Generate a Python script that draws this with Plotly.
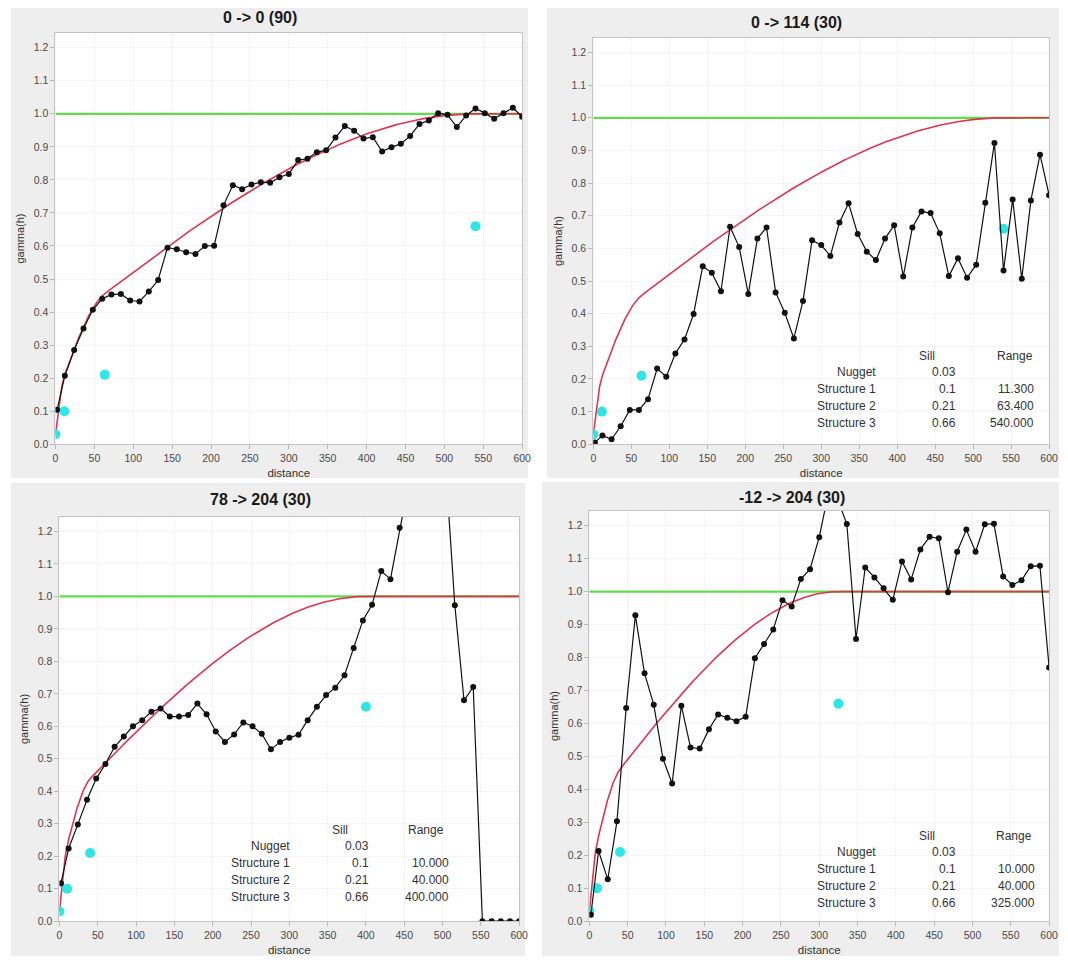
import numpy as np
import plotly.graph_objects as go

# page is shown in a 1068x962 window; the html body adds an 8px margin,
# so the figure is made 8px smaller and all pixel positions are shifted by 8.
WIN_W, WIN_H = 1068, 962
OFF = 8
W, H = WIN_W - OFF, WIN_H - OFF

# ---------------- data ----------------
lag_distance = [2, 12, 24, 36, 48, 60, 72, 84, 96, 108, 120, 132, 144, 156, 168, 180,
                192, 204, 216, 228, 240, 252, 264, 276, 288, 300, 312, 324, 336, 348,
                360, 372, 384, 396, 408, 420, 432, 444, 456, 468, 480, 492, 504, 516,
                528, 540, 552, 564, 576, 588, 600]

gamma_0_0 = [0.104, 0.207, 0.285, 0.35, 0.407, 0.44, 0.453, 0.455, 0.435, 0.432, 0.462,
             0.497, 0.595, 0.59, 0.581, 0.576, 0.6, 0.601, 0.723, 0.784, 0.772, 0.786,
             0.793, 0.791, 0.808, 0.818, 0.86, 0.864, 0.884, 0.89, 0.928, 0.963, 0.949,
             0.925, 0.929, 0.886, 0.899, 0.909, 0.933, 0.969, 0.98, 1.002, 0.997, 0.96,
             0.995, 1.016, 1.002, 0.985, 1.002, 1.018, 0.991]

gamma_0_114 = [0.005, 0.027, 0.015, 0.055, 0.105, 0.105, 0.138, 0.232, 0.207, 0.278, 0.321,
               0.399, 0.545, 0.525, 0.469, 0.666, 0.604, 0.46, 0.63, 0.664, 0.465, 0.403,
               0.324, 0.439, 0.625, 0.61, 0.577, 0.679, 0.738, 0.644, 0.59, 0.564, 0.63,
               0.671, 0.514, 0.664, 0.713, 0.708, 0.646, 0.515, 0.57, 0.51, 0.55, 0.74,
               0.923, 0.532, 0.75, 0.507, 0.747, 0.887, 0.763]

gamma_78_204 = [0.117, 0.224, 0.298, 0.374, 0.439, 0.484, 0.537, 0.569, 0.6, 0.619, 0.645,
                0.655, 0.63, 0.63, 0.635, 0.67, 0.637, 0.584, 0.552, 0.575, 0.612, 0.6,
                0.577, 0.529, 0.552, 0.565, 0.574, 0.619, 0.66, 0.696, 0.719, 0.757, 0.841,
                0.926, 0.974, 1.078, 1.053, 1.211, 1.37, 1.5, 1.55, 1.5, 1.4, 0.973, 0.68,
                0.721, 0.0, 0.0, 0.0, 0.0, 0.0]

gamma_m12_204 = [0.02, 0.213, 0.127, 0.303, 0.647, 0.928, 0.752, 0.657, 0.493, 0.418, 0.654,
                 0.527, 0.524, 0.582, 0.627, 0.617, 0.607, 0.62, 0.798, 0.841, 0.885, 0.974,
                 0.955, 1.038, 1.068, 1.165, 1.30, 1.28, 1.205, 0.856, 1.073, 1.043, 1.01,
                 0.975, 1.091, 1.037, 1.128, 1.166, 1.162, 0.998, 1.121, 1.188, 1.121, 1.204,
                 1.206, 1.046, 1.02, 1.034, 1.077, 1.078, 0.77]

titles = ["0 -> 0 (90)", "0 -> 114 (30)", "78 -> 204 (30)", "-12 -> 204 (30)"]

# variogram model parameters (Nugget / Structure sills and ranges, as printed)
nugget = [0.03, 0.03, 0.03, 0.03]
struct_sill = [[0.1, 0.21, 0.66]] * 4
struct_range = [[11.3, 63.4, 540.0], [11.3, 63.4, 540.0],
                [10.0, 40.0, 400.0], [10.0, 40.0, 325.0]]
range_labels = [None, ["11.300", "63.400", "540.000"],
                ["10.000", "40.000", "400.000"], ["10.000", "40.000", "325.000"]]
sill_labels = ["0.03", "0.1", "0.21", "0.66"]
row_labels = ["Nugget", "Structure 1", "Structure 2", "Structure 3"]
total_sill = 1.0

series = [gamma_0_0, gamma_0_114, gamma_78_204, gamma_m12_204]

# ---------------- layout geometry (window pixels) ----------------
# plot areas: (left, right, top, bottom)
plot_px = [(53, 525, 33, 447), (597, 1058, 38, 447),
           (57, 522, 520, 927), (593, 1058, 514, 927)]
panel_px = [(7, 531, 5, 481), (550, 1068, 6, 481),
            (7, 528, 486, 962), (545, 1068, 485, 962)]
title_px = [(260, 18), (802, 23), (260, 503), (798, 501)]
# table: label right edge, sill right edge, range right edge, sill header x, range header x, header y
table_px = [None,
            (885, 966, 1045, 934, 1023, 358),
            (292, 372, 453, 341, 428, 835),
            (885, 966, 1046, 934, 1022, 841)]
row_h = 16.8

FONT = "Liberation Sans, Arial, sans-serif"


def px_x(x):
    return (x - OFF) / W


def px_y(y):
    return 1 - (y - OFF) / H


def spherical_model(h, c0, sills, ranges):
    h = np.asarray(h, dtype=float)
    g = np.full_like(h, c0)
    for c, a in zip(sills, ranges):
        r = np.clip(h / a, 0, 1)
        g += c * (1.5 * r - 0.5 * r ** 3)
    return g


fig = go.Figure()
shapes = []
annotations = []
h_model = np.linspace(0, 600, 1201)

# panel backgrounds first, then white plot areas on top of them
for i in range(4):
    pl, pr, pt, pb = panel_px[i]
    shapes.append(dict(type="rect", xref="paper", yref="paper",
                       x0=max(px_x(pl), 0), x1=min(px_x(pr), 1),
                       y0=max(px_y(pb), 0), y1=min(px_y(pt), 1),
                       fillcolor="#eeeeee", line=dict(width=0), layer="below"))
for i in range(4):
    l, r, t, b = plot_px[i]
    shapes.append(dict(type="rect", xref="paper", yref="paper",
                       x0=px_x(l), x1=px_x(r), y0=px_y(b), y1=px_y(t),
                       fillcolor="white", line=dict(width=0), layer="below"))

for i in range(4):
    ax = "" if i == 0 else str(i + 1)
    xref, yref = "x" + ax, "y" + ax
    l, r, t, b = plot_px[i]

    fig.update_layout(**{
        "xaxis" + ax: dict(
            domain=[px_x(l), px_x(r)], range=[0, 600], anchor=yref,
            tickmode="linear", tick0=0, dtick=50,
            showgrid=True, gridcolor="#f5f5f5", gridwidth=1, zeroline=False,
            showline=True, linecolor="#c4c4c4", linewidth=1, mirror=True,
            ticks="outside", ticklen=4, tickcolor="#b8b8b8",
            tickfont=dict(family=FONT, size=10.5, color="#4a4a4a"),
            title=dict(text="distance", font=dict(family=FONT, size=11.5, color="#333"),
                       standoff=6),
        ),
        "yaxis" + ax: dict(
            domain=[px_y(b), px_y(t)], range=[0, 1.245], anchor=xref,
            tickmode="linear", tick0=0, dtick=0.1, tickformat=".1f",
            showgrid=True, gridcolor="#f5f5f5", gridwidth=1, zeroline=False,
            showline=True, linecolor="#c4c4c4", linewidth=1, mirror=True,
            ticks="outside", ticklen=4, tickcolor="#b8b8b8",
            tickfont=dict(family=FONT, size=10.5, color="#4a4a4a"),
            title=dict(text="gamma(h)", font=dict(family=FONT, size=11, color="#333"),
                       standoff=6),
        ),
    })

    # sill line
    fig.add_trace(go.Scatter(x=[0, 600], y=[total_sill, total_sill], mode="lines",
                             line=dict(color="#62dc4c", width=2.2),
                             xaxis=xref, yaxis=yref, showlegend=False, hoverinfo="skip"))
    # model curve from the printed nugget / sill / range
    fig.add_trace(go.Scatter(x=h_model,
                             y=spherical_model(h_model, nugget[i], struct_sill[i], struct_range[i]),
                             mode="lines", line=dict(color="#de3550", width=1.6),
                             xaxis=xref, yaxis=yref, showlegend=False, hoverinfo="skip"))
    # structure points (range, sill)
    fig.add_trace(go.Scatter(x=[0] + list(struct_range[i]),
                             y=[nugget[i]] + list(struct_sill[i]),
                             mode="markers", marker=dict(color="#2de6e6", size=10),
                             xaxis=xref, yaxis=yref, showlegend=False))
    # experimental variogram
    fig.add_trace(go.Scatter(x=lag_distance, y=series[i], mode="lines+markers",
                             line=dict(color="#111", width=1.2),
                             marker=dict(color="#111", size=6),
                             xaxis=xref, yaxis=yref, showlegend=False))

    # title
    tx, ty = title_px[i]
    annotations.append(dict(text="<b>%s</b>" % titles[i], xref="paper", yref="paper",
                            x=px_x(tx), y=px_y(ty), showarrow=False,
                            xanchor="center", yanchor="middle",
                            font=dict(family=FONT, size=16, color="#1a1a1a")))
    # parameter table
    if table_px[i] is not None:
        lab_r, sill_r, rng_r, sh_x, rh_x, hy = table_px[i]
        tf = dict(family=FONT, size=12, color="#333")
        annotations.append(dict(text="Sill", xref="paper", yref="paper", x=px_x(sh_x),
                                y=px_y(hy), showarrow=False, xanchor="center",
                                yanchor="middle", font=tf))
        annotations.append(dict(text="Range", xref="paper", yref="paper", x=px_x(rh_x),
                                y=px_y(hy), showarrow=False, xanchor="center",
                                yanchor="middle", font=tf))
        for k in range(4):
            yy = px_y(hy + row_h * (k + 1))
            annotations.append(dict(text=row_labels[k], xref="paper", yref="paper",
                                    x=px_x(lab_r), y=yy, showarrow=False, xanchor="right",
                                    yanchor="middle", font=tf))
            annotations.append(dict(text=sill_labels[k], xref="paper", yref="paper",
                                    x=px_x(sill_r), y=yy, showarrow=False, xanchor="right",
                                    yanchor="middle", font=tf))
            if k > 0:
                annotations.append(dict(text=range_labels[i][k - 1], xref="paper",
                                        yref="paper", x=px_x(rng_r), y=yy, showarrow=False,
                                        xanchor="right", yanchor="middle", font=tf))

fig.update_layout(width=W, height=H, margin=dict(l=0, r=0, t=0, b=0),
                  paper_bgcolor="white", plot_bgcolor="white",
                  shapes=shapes, annotations=annotations, showlegend=False)

fig.write_html("out.html")
